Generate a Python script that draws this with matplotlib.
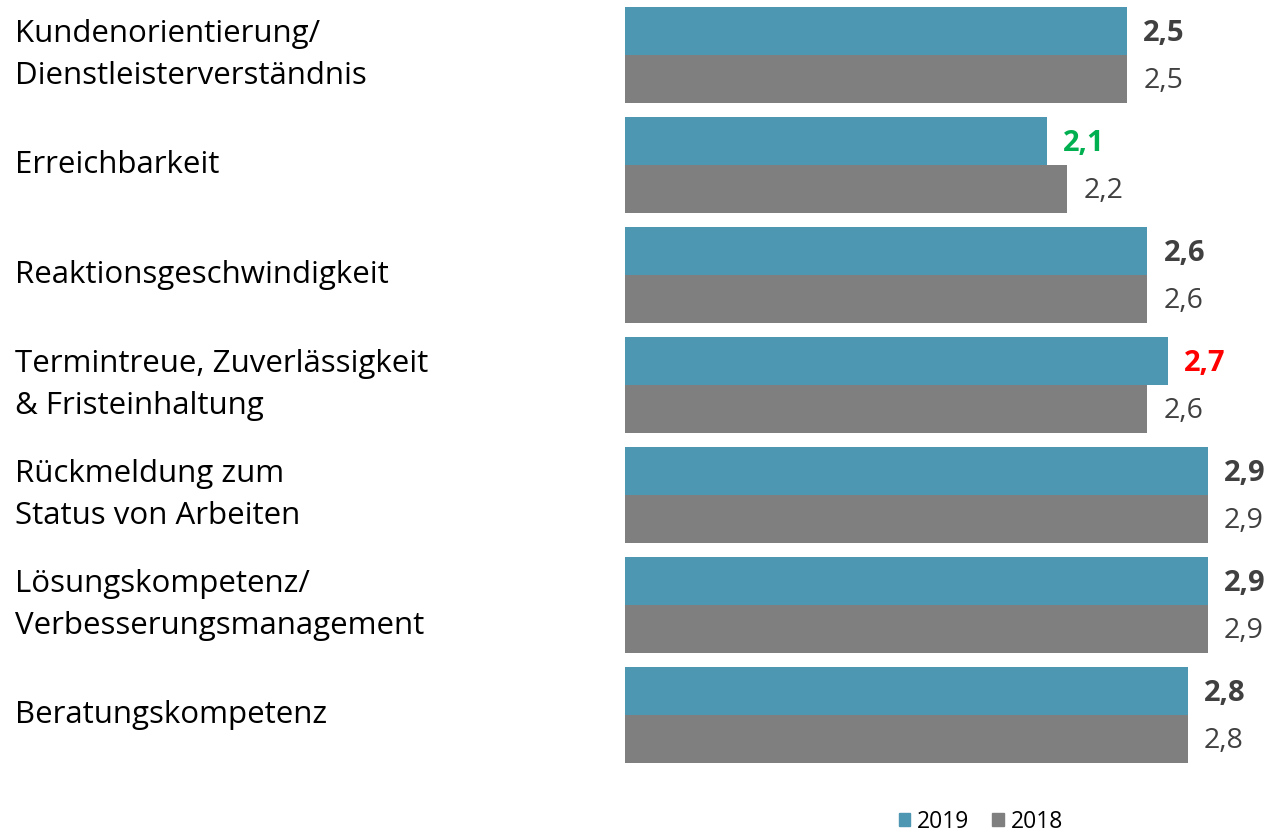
import numpy as np
import matplotlib.pyplot as plt
import matplotlib.transforms as mtransforms
from matplotlib.patches import Patch

plt.rcParams['font.family'] = ['Open Sans', 'DejaVu Sans']

categories = [
    "Kundenorientierung/\nDienstleisterverständnis",
    "Erreichbarkeit",
    "Reaktionsgeschwindigkeit",
    "Termintreue, Zuverlässigkeit\n& Fristeinhaltung",
    "Rückmeldung zum\nStatus von Arbeiten",
    "Lösungskompetenz/\nVerbesserungsmanagement",
    "Beratungskompetenz",
]
values_2019 = [2.5, 2.1, 2.6, 2.7, 2.9, 2.9, 2.8]
values_2018 = [2.5, 2.2, 2.6, 2.6, 2.9, 2.9, 2.8]
# colour of the 2019 value label (green = better, red = worse)
label_colors_2019 = ['#404040', '#00B050', '#404040', '#FF0000', '#404040', '#404040', '#404040']

c2019 = '#4E97B2'
c2018 = '#7F7F7F'

W, H = 1267, 834
fig = plt.figure(figsize=(W / 100, H / 100), dpi=100)
ax = fig.add_axes([625 / W, 64 / H, 643 / W, 770 / H])

y = np.arange(len(categories))
h = 0.432
ax.barh(y - h / 2, values_2019, height=h, color=c2019, label='2019')
ax.barh(y + h / 2, values_2018, height=h, color=c2018, label='2018')

ax.set_xlim(0, 3.2)
ax.set_ylim(len(categories) - 0.5, -0.5)
ax.axis('off')

for i in range(len(categories)):
    ax.text(values_2019[i] + 0.08, y[i] - h / 2 + 0.02, f"{values_2019[i]:.1f}".replace('.', ','),
            va='center', ha='left', fontsize=21, fontweight='bold', color=label_colors_2019[i])
    ax.text(values_2018[i] + 0.08, y[i] + h / 2 + 0.02, f"{values_2018[i]:.1f}".replace('.', ','),
            va='center', ha='left', fontsize=20.5, color='#404040')

trans = mtransforms.blended_transform_factory(fig.transFigure, ax.transData)
for i, cat in enumerate(categories):
    ax.text(15 / W, y[i], cat, transform=trans, ha='left', va='center',
            fontsize=22.5, color='black', linespacing=1.5)

handles = [Patch(color=c2019, label='2019'), Patch(color=c2018, label='2018')]
fig.legend(handles=handles, loc='center', bbox_to_anchor=(981 / W, 12 / H), ncol=2,
           frameon=False, fontsize=16.5, handlelength=0.5, handleheight=0.5,
           handletextpad=0.3, columnspacing=1.0)

fig.savefig('out.png', dpi=100)
